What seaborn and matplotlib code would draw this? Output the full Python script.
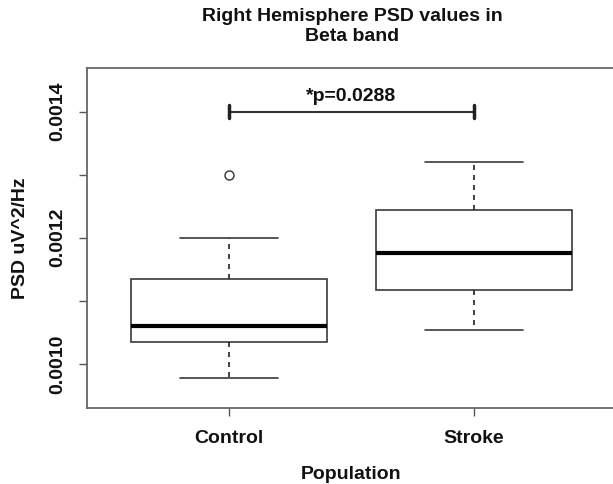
import matplotlib
matplotlib.use('Agg')
import matplotlib.pyplot as plt
import seaborn as sns
import pandas as pd
import numpy as np

sns.set_style('ticks')
plt.rcParams['font.family'] = ['Liberation Sans', 'DejaVu Sans']
plt.rcParams['font.weight'] = 'bold'
plt.rcParams['text.color'] = '#111111'
plt.rcParams['axes.labelcolor'] = '#111111'
plt.rcParams['xtick.labelcolor'] = '#111111'
plt.rcParams['ytick.labelcolor'] = '#111111'

# values (five-number summaries reproduced by these samples)
groups = ['Control', 'Stroke']
control_psd = [0.000978, 0.00101, 0.001034, 0.00105, 0.00106, 0.0011, 0.001134, 0.0012, 0.0013]
stroke_psd = [0.001054, 0.00109, 0.001117, 0.00115, 0.001176, 0.00121, 0.001244, 0.00128, 0.00132]
yticks = [0.0010, 0.0011, 0.0012, 0.0013, 0.0014]
ytick_labels = ['0.0010', '', '0.0012', '', '0.0014']
p_text = '*p=0.0288'
p_level = 0.0014

df = pd.DataFrame({
    'Population': ['Control'] * len(control_psd) + ['Stroke'] * len(stroke_psd),
    'PSD': control_psd + stroke_psd,
})

fig = plt.figure(figsize=(6.13, 4.84), dpi=100)
ax = fig.add_axes([87 / 613, 76 / 484, 529 / 613, 340 / 484])

line_col = '#3a3a3a'
sns.boxplot(data=df, x='Population', y='PSD', order=groups, ax=ax,
            width=0.8, whis=1.5, color='white', linecolor=line_col, linewidth=1.2,
            medianprops=dict(color='black', linewidth=3.0),
            whiskerprops=dict(linestyle=(0, (3, 3)), color='#222222'),
            capprops=dict(color=line_col),
            flierprops=dict(marker='o', markersize=6.5, markerfacecolor='white',
                            markeredgecolor='#333333', markeredgewidth=1.0))

ax.set_xlim(-0.58, 1.58)
ax.set_ylim(0.000930, 0.001469)

# significance bar
ax.plot([0, 1], [p_level, p_level], color='#333333', lw=1.5, solid_capstyle='butt')
for xp in [0, 1]:
    ax.plot([xp, xp], [p_level - 0.000011, p_level + 0.000011], color='#222222', lw=2.5)
ax.text(0.5, p_level + 0.000016, p_text, ha='center', va='baseline', fontsize=14, fontweight='bold')

ax.set_yticks(yticks)
ax.set_yticklabels(ytick_labels, rotation=90, va='center', fontsize=14, fontweight='bold')
ax.set_xticks([0, 1])
ax.set_xticklabels(groups, fontsize=14, fontweight='bold')
ax.tick_params(axis='both', direction='out', length=6, width=1, color='#555555')
ax.tick_params(axis='x', pad=10)
ax.tick_params(axis='y', pad=9)

for s in ax.spines.values():
    s.set_color('#666666')
    s.set_linewidth(1.3)

ax.set_xlabel('Population', fontsize=14, fontweight='bold')
ax.set_ylabel('PSD uV^2/Hz', fontsize=14, fontweight='bold')
ax.xaxis.set_label_coords(0.5, -0.17)
ax.yaxis.set_label_coords(-0.11, 0.5)

fig.text(352 / 613, 1 - 8 / 484, 'Right Hemisphere PSD values in\nBeta band',
         ha='center', va='top', fontsize=14, fontweight='bold', linespacing=1.25)

fig.savefig('out.png', dpi=100, facecolor='white')
